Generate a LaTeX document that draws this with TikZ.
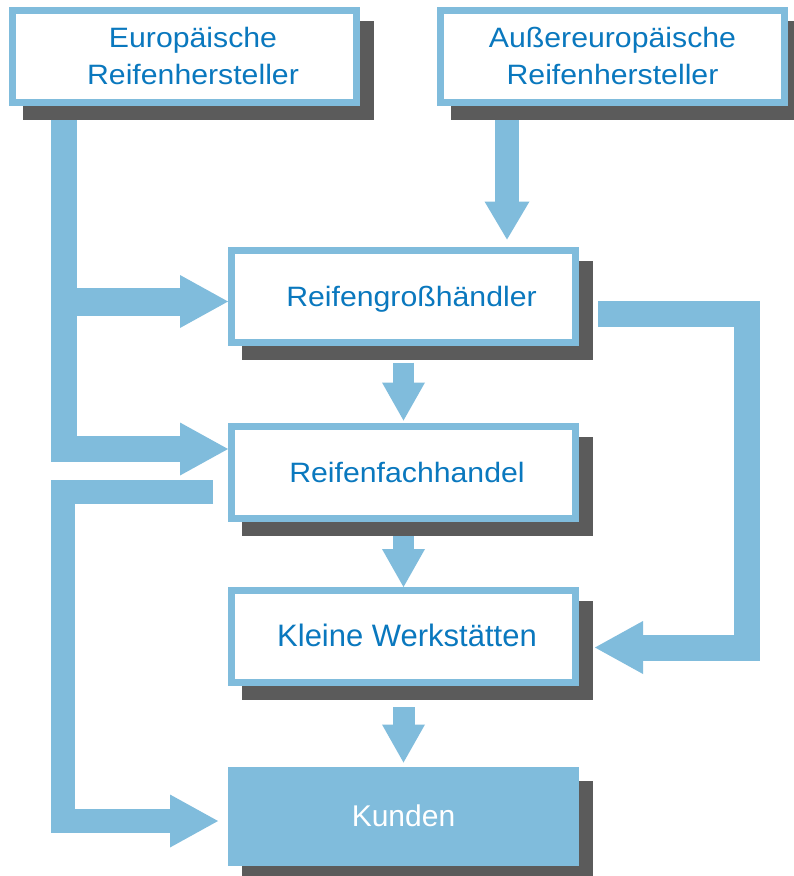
\documentclass[tikz,border=0pt]{standalone}
\usepackage{fontspec}
\setmainfont{Liberation Sans}
\newfontfamily\widefont{Liberation Sans}[FakeStretch=1.08]
\usetikzlibrary{arrows.meta,calc}
\definecolor{flowblue}{HTML}{80BCDC}
\definecolor{textblue}{HTML}{0A78BE}
\definecolor{shadowgray}{HTML}{5B5B5B}
\pgfdeclarelayer{bg}
\pgfdeclarelayer{shadowlayer}
\pgfsetlayers{bg,shadowlayer,main}
\begin{document}
\begin{tikzpicture}[x=1pt,y=-1pt,
  box/.style={draw=flowblue, line width=7pt, fill=white, minimum width=344pt,
    minimum height=92pt, inner sep=0pt, outer sep=0pt, align=center, text=textblue,
    font=\widefont\fontsize{28}{37}\selectfont},
  onebox/.style={box, text height=24pt, text depth=4pt},
  flow/.style={draw=flowblue, line join=miter},
  bigtip/.style={-{Triangle[length=48pt,width=53pt,line width=0pt]}},
  smalltip/.style={-{Triangle[length=38pt,width=43pt,line width=0pt]}},
  shade/.style={fill=shadowgray}
]
\useasboundingbox (0,0) rectangle (793,876);

% boxes
\node[box] (eu) at (184,56) {\hspace*{18pt}Europäische\\\hspace*{18pt}Reifenhersteller};
\node[box] (au) at (612.5,56) {Außereuropäische\\Reifenhersteller};
\node[onebox] (gr) at (403.5,296) {\hspace*{16pt}Reifengroßhändler};
\node[onebox] (fa) at (403.5,472) {\hspace*{7pt}Reifenfachhandel};
\node[onebox, font=\fontsize{31}{37}\selectfont] (kl) at (403.5,636.5) {\hspace*{7pt}Kleine Werkstätten};
\node[onebox, fill=flowblue, text=white, font=\fontsize{30}{37}\selectfont] (ku) at (403.5,816) {Kunden};

% shadows
\begin{pgfonlayer}{shadowlayer}
\foreach \b in {eu,au,gr,fa,kl,ku}
  \fill[shade] ([xshift=10.5pt,yshift=-10.5pt]\b.north west) rectangle ([xshift=17.5pt,yshift=-17.5pt]\b.south east);
\end{pgfonlayer}

% connectors
\coordinate (eL) at (63.5,449);
\coordinate (eG) at (63.5,301.5);
\coordinate (fL) at (213,491.5);
\coordinate (fC) at (62.5,491.5);
\coordinate (kuL) at (62.5,821);
\coordinate (gR) at (598,314);
\coordinate (rC) at (747,314);
\coordinate (rD) at (747,647.5);
\coordinate (aX) at (507,0);

\begin{pgfonlayer}{bg}
\fill[white] (0,0) rectangle (793,876);
\draw[flow, line width=26pt, bigtip, shorten >=3.5pt] (eu.south -| eL) -- (eL) -- (fa.west |- eL);
\draw[flow, line width=28pt, bigtip, shorten >=3.5pt] (eG) -- (gr.west |- eG);
\draw[flow, line width=24pt, bigtip, shorten >=13.5pt] (fL) -- (fC) -- (kuL) -- (ku.west |- kuL);
\draw[flow, line width=26pt, bigtip, shorten >=19.5pt] (gR) -- (rC) -- (rD) -- (kl.east |- rD);
\draw[flow, line width=24pt, -{Triangle[length=38pt,width=45pt,line width=0pt]}, shorten >=10.5pt] (au.south -| aX) -- (gr.north -| aX);
\draw[flow, line width=21pt, smalltip, shorten <=20.5pt, shorten >=5.5pt] (gr.south) -- (fa.north);
\draw[flow, line width=21pt, smalltip, shorten <=16.5pt, shorten >=3.5pt] (fa.south) -- (kl.north);
\draw[flow, line width=22pt, smalltip, shorten <=24.5pt, shorten >=7.5pt] (kl.south) -- (ku.north);
\end{pgfonlayer}
\end{tikzpicture}
\end{document}
